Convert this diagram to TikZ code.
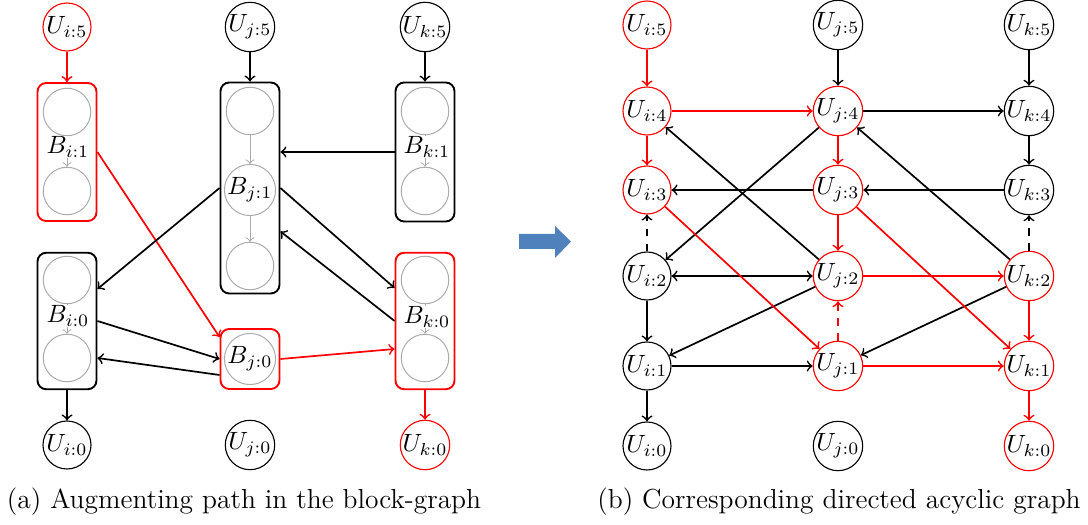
\documentclass[tikz,border=0pt]{standalone}
\usetikzlibrary{calc}
\definecolor{arrowblue}{HTML}{4F81BD}
\begin{document}
\begin{tikzpicture}[x=0.4pt,y=-0.4pt,
  unode/.style={circle,draw,line width=0.45pt,minimum size=19.2pt,inner sep=0pt},
  hot/.style={draw=red},
  inner/.style={circle,draw=black!33,line width=0.4pt,minimum size=19pt,inner sep=0pt},
  block/.style={draw,rounded corners=3.5pt,line width=0.75pt,inner sep=0pt,minimum width=23.6pt},
  edge/.style={->,line width=0.68pt},
  redge/.style={edge,draw=red},
  gedge/.style={->,draw=black!33,line width=0.4pt},
  blabel/.style={fill=white,inner sep=0.3pt},
  caption/.style={anchor=base,font=\fontsize{11}{13}\selectfont},
]
\useasboundingbox (0,0) rectangle (1088,525);

% ---------- block graph ----------
\node[unode,hot] (ui5) at (67,27) {$U_{i:5}$};
\node[unode] (uj5) at (250,27) {$U_{j:5}$};
\node[unode] (uk5) at (425,27) {$U_{k:5}$};
\node[unode] (ui0) at (67,445) {$U_{i:0}$};
\node[unode] (uj0) at (250,445) {$U_{j:0}$};
\node[unode,hot] (uk0) at (425,445) {$U_{k:0}$};

\node[block,draw=red,minimum height=55.2pt] (bi1) at (67,152) {};
\node[block,minimum height=84.4pt] (bj1) at (250,188) {};
\node[block,minimum height=55.6pt] (bk1) at (425,152) {};
\node[block,minimum height=54.6pt] (bi0) at (67,321) {};
\node[block,draw=red,minimum height=24pt] (bj0) at (250,359) {};
\node[block,draw=red,minimum height=54.6pt] (bk0) at (425,321) {};

% circles inside the blocks
\node[inner] (ci1a) at (67,112) {};
\node[inner] (ci1b) at (67,191) {};
\node[inner] (cj1a) at (250,111) {};
\node[inner] (cj1b) at (250,190) {$B_{j:1}$};
\node[inner] (cj1c) at (250,266) {};
\node[inner] (ck1a) at (425,111) {};
\node[inner] (ck1b) at (425,191) {};
\node[inner] (ci0a) at (67,280) {};
\node[inner] (ci0b) at (67,358) {};
\node[inner] (cj0a) at (250,359) {$B_{j:0}$};
\node[inner] (ck0a) at (425,280) {};
\node[inner] (ck0b) at (425,358) {};

\draw[gedge] (ci1a) -- (ci1b);
\draw[gedge] (cj1a) -- (cj1b);
\draw[gedge] (cj1b) -- (cj1c);
\draw[gedge] (ck1a) -- (ck1b);
\draw[gedge] (ci0a) -- (ci0b);
\draw[gedge] (ck0a) -- (ck0b);

\node[blabel] (li1) at (68,147) {$B_{i:1}$};
\node[blabel] (lk1) at (427,147) {$B_{k:1}$};
\node[blabel] (li0) at (68,316) {$B_{i:0}$};
\node[blabel] (lk0) at (427,317) {$B_{k:0}$};

\draw[redge] (ui5) -- (bi1);
\draw[edge] (uj5) -- (bj1);
\draw[edge] (uk5) -- (bk1);
\draw[edge] (bk1.west) -- (bk1.west -| bj1.east);
\draw[redge] (bi1.east) -- ($(bj0.north west)+(0,9)$);
\draw[edge] (bj1.west) -- ($(bi0.east)+(0,-32)$);
\draw[edge] (bj1.east) -- ($(bk0.west)+(0,-33)$);
\draw[edge] (bk0.west) -- ($(bj1.south east)+(0,-63)$);
\draw[edge] (bi0.east) -- (bj0.west);
\draw[edge] ($(bj0.west)+(0,16)$) -- ($(bi0.east)+(0,37)$);
\draw[redge] (bj0.east) -- ($(bk0.west)+(0,28)$);
\draw[edge] (bi0) -- (ui0);
\draw[redge] (bk0) -- (uk0);

% ---------- transition arrow ----------
\fill[arrowblue] (519,234) -- (555,234) -- (555,226) -- (571,241.5)
  -- (555,258) -- (555,249) -- (519,249) -- cycle;

% ---------- directed acyclic graph ----------
\node[unode,hot] (pi5) at (647,25) {$U_{i:5}$};
\node[unode,hot] (pi4) at (647,111) {$U_{i:4}$};
\node[unode,hot] (pi3) at (647,190) {$U_{i:3}$};
\node[unode] (pi2) at (647,276) {$U_{i:2}$};
\node[unode] (pi1) at (647,366) {$U_{i:1}$};
\node[unode] (pi0) at (647,446) {$U_{i:0}$};

\node[unode] (pj5) at (838,25) {$U_{j:5}$};
\node[unode,hot] (pj4) at (838,111) {$U_{j:4}$};
\node[unode,hot] (pj3) at (838,190) {$U_{j:3}$};
\node[unode,hot] (pj2) at (838,276) {$U_{j:2}$};
\node[unode,hot] (pj1) at (838,366) {$U_{j:1}$};
\node[unode] (pj0) at (838,446) {$U_{j:0}$};

\node[unode] (pk5) at (1029,25) {$U_{k:5}$};
\node[unode] (pk4) at (1029,111) {$U_{k:4}$};
\node[unode] (pk3) at (1029,190) {$U_{k:3}$};
\node[unode,hot] (pk2) at (1029,276) {$U_{k:2}$};
\node[unode,hot] (pk1) at (1029,366) {$U_{k:1}$};
\node[unode,hot] (pk0) at (1029,446) {$U_{k:0}$};

% black connectors
\draw[edge] (pj5) -- (pj4);
\draw[edge] (pk5) -- (pk4);
\draw[edge] (pk4) -- (pk3);
\draw[edge] (pj4) -- (pk4);
\draw[edge] (pj3) -- (pi3);
\draw[edge] (pk3) -- (pj3);
\draw[edge] (pj4) -- (pi2);
\draw[edge] (pj2) -- (pi4);
\draw[edge] (pk2) -- (pj4);
\draw[edge,dashed] (pi2) -- (pi3);
\draw[edge,dashed] (pk2) -- (pk3);
\draw[edge,<->] (pi2) -- (pj2);
\draw[edge] (pi2) -- (pi1);
\draw[edge] (pi1) -- (pi0);
\draw[edge] (pj2) -- (pi1);
\draw[edge] (pk2) -- (pj1);
\draw[edge] (pi1) -- (pj1);

% red connectors
\draw[redge] (pi5) -- (pi4);
\draw[redge] (pi4) -- (pi3);
\draw[redge] (pi4) -- (pj4);
\draw[redge] (pj4) -- (pj3);
\draw[redge] (pj3) -- (pj2);
\draw[redge] (pi3) -- (pj1);
\draw[redge] (pj3) -- (pk1);
\draw[redge] (pj2) -- (pk2);
\draw[redge,dashed] (pj1) -- (pj2);
\draw[redge] (pj1) -- (pk1);
\draw[redge] (pk2) -- (pk1);
\draw[redge] (pk1) -- (pk0);

% ---------- captions ----------
\node[caption] (capa) at (244,509) {(a) Augmenting path in the block-graph};
\node[caption] (capb) at (839,509) {(b) Corresponding directed acyclic graph};
\end{tikzpicture}
\end{document}
